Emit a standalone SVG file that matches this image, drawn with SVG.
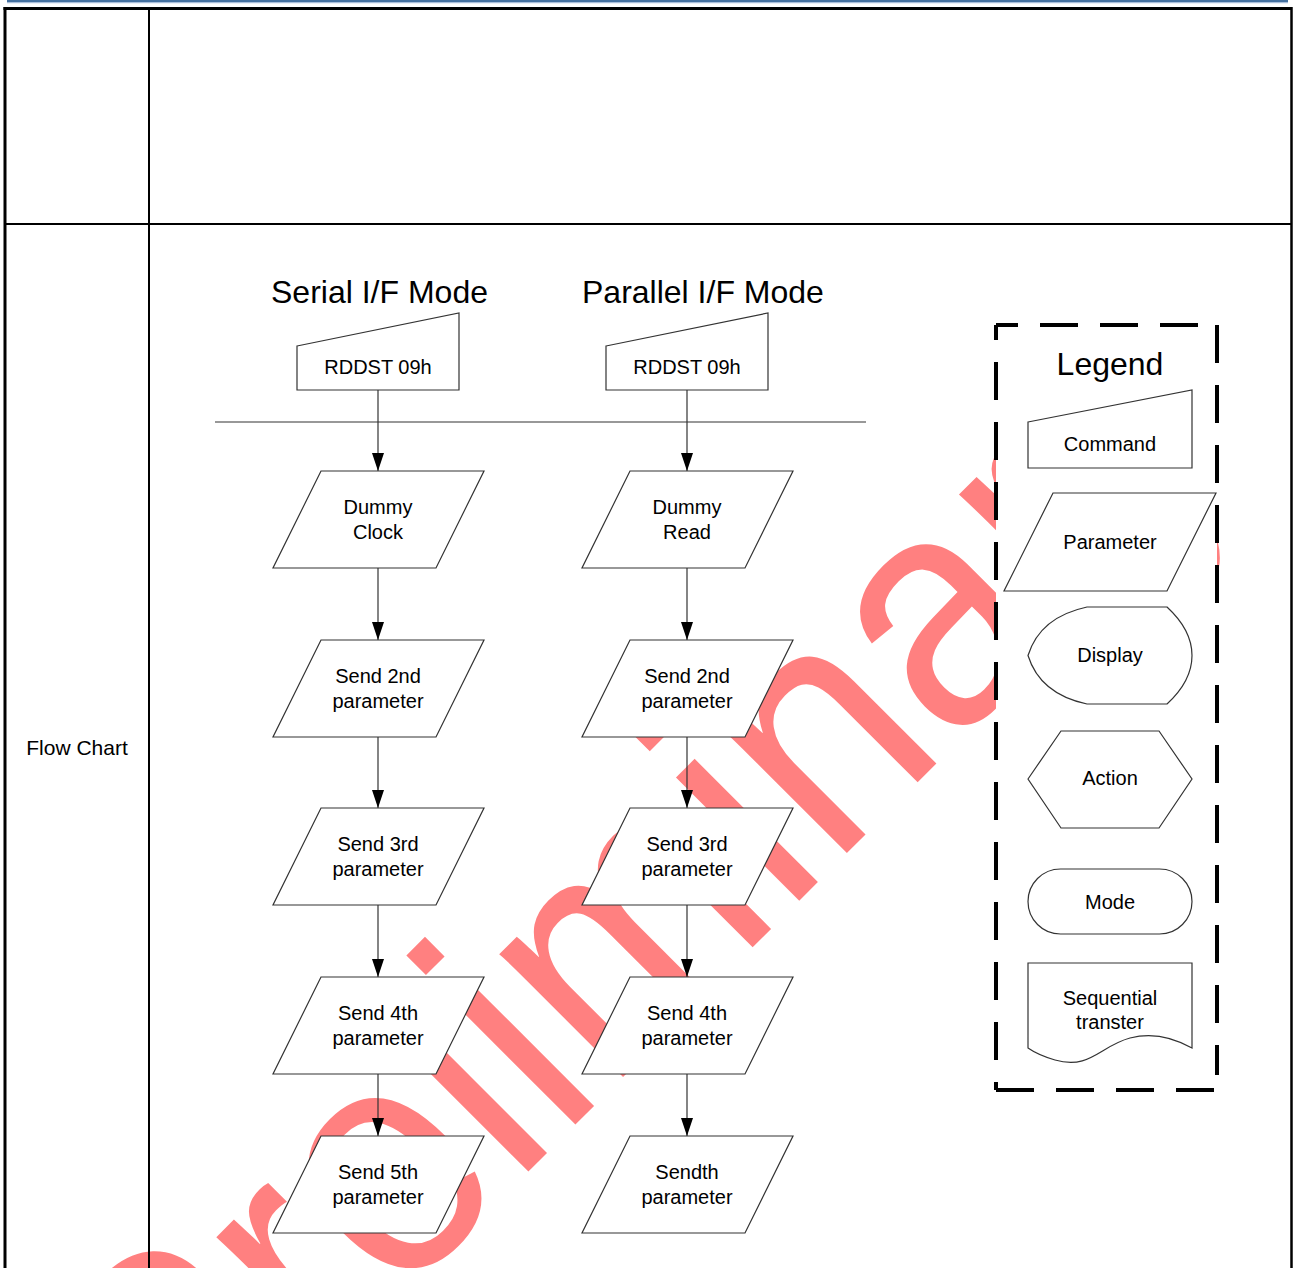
<svg xmlns="http://www.w3.org/2000/svg" width="1293" height="1268" viewBox="0 0 1293 1268">
<style>
text{font-family:"Liberation Sans",Arial,sans-serif;fill:#000}
.t{font-size:20px;text-anchor:middle}
.title{font-size:32px}
.wm{fill:#FF8080;font-size:300px}
.node{fill:#fff;stroke:#333;stroke-width:1.2}
.conn{stroke:#333;stroke-width:1.2;fill:none}
.tbl{stroke:#000;fill:none}
.dash{stroke:#000;stroke-width:4;stroke-dasharray:38 22;fill:none}
</style>
<defs>
<marker id="arr" viewBox="0 0 18 12" refX="18" refY="6" markerWidth="18" markerHeight="12" markerUnits="userSpaceOnUse" orient="auto">
<path d="M0,0 L18,6 L0,12 z" fill="#000"/>
</marker>
</defs>
<rect width="1293" height="1268" fill="#fff"/>
<!-- watermark -->
<text id="watermark" class="wm" x="0" y="0" transform="translate(184,1516) rotate(-45) scale(1,1.1)">Preliminary</text>
<!-- header band -->
<rect x="7" y="0" width="1281" height="2.2" fill="#44709F"/>
<rect x="7" y="2.2" width="1281" height="1" fill="#9DB5D5"/>
<!-- table -->
<g id="table">
<line class="tbl" x1="5" y1="7" x2="5" y2="1268" stroke-width="3"/>
<line class="tbl" x1="3.5" y1="8.5" x2="1292" y2="8.5" stroke-width="3"/>
<line class="tbl" x1="1291.5" y1="7" x2="1291.5" y2="1268" stroke-width="2.5"/>
<line class="tbl" x1="149" y1="8" x2="149" y2="1268" stroke-width="2"/>
<line class="tbl" x1="5" y1="224" x2="1292" y2="224" stroke-width="2"/>
<text x="77" y="755" font-size="21" text-anchor="middle">Flow Chart</text>
</g>
<!-- titles -->
<text class="title" x="271" y="303">Serial I/F Mode</text>
<text class="title" x="582" y="303">Parallel I/F Mode</text>
<!-- connectors -->
<g id="connectors">
<line class="conn" x1="215" y1="422" x2="866" y2="422"/>
<line class="conn" x1="378" y1="390" x2="378" y2="471" marker-end="url(#arr)"/>
<line class="conn" x1="378" y1="568" x2="378" y2="640" marker-end="url(#arr)"/>
<line class="conn" x1="378" y1="737" x2="378" y2="808" marker-end="url(#arr)"/>
<line class="conn" x1="378" y1="905" x2="378" y2="977" marker-end="url(#arr)"/>
<line class="conn" x1="378" y1="1074" x2="378" y2="1136" marker-end="url(#arr)"/>
<line class="conn" x1="687" y1="390" x2="687" y2="471" marker-end="url(#arr)"/>
<line class="conn" x1="687" y1="568" x2="687" y2="640" marker-end="url(#arr)"/>
<line class="conn" x1="687" y1="737" x2="687" y2="808" marker-end="url(#arr)"/>
<line class="conn" x1="687" y1="905" x2="687" y2="977" marker-end="url(#arr)"/>
<line class="conn" x1="687" y1="1074" x2="687" y2="1136" marker-end="url(#arr)"/>
</g>
<!-- serial column -->
<g id="s-cmd"><path class="node" d="M297,346 L459,313 L459,390 L297,390 Z"/><text class="t" x="378" y="374">RDDST 09h</text></g>
<g id="s-dummy"><path class="node" d="M321,471 L484,471 L436,568 L273,568 Z"/><text class="t" x="378" y="513.5">Dummy</text><text class="t" x="378" y="538.5">Clock</text></g>
<g id="s-p2"><path class="node" d="M321,640 L484,640 L436,737 L273,737 Z"/><text class="t" x="378" y="682.5">Send 2nd</text><text class="t" x="378" y="707.5">parameter</text></g>
<g id="s-p3"><path class="node" d="M321,808 L484,808 L436,905 L273,905 Z"/><text class="t" x="378" y="850.5">Send 3rd</text><text class="t" x="378" y="875.5">parameter</text></g>
<g id="s-p4"><path class="node" d="M321,977 L484,977 L436,1074 L273,1074 Z"/><text class="t" x="378" y="1019.5">Send 4th</text><text class="t" x="378" y="1044.5">parameter</text></g>
<g id="s-p5"><path class="node" d="M321,1136 L484,1136 L436,1233 L273,1233 Z"/><text class="t" x="378" y="1178.5">Send 5th</text><text class="t" x="378" y="1203.5">parameter</text></g>
<!-- parallel column -->
<g id="p-cmd"><path class="node" d="M606,346 L768,313 L768,390 L606,390 Z"/><text class="t" x="687" y="374">RDDST 09h</text></g>
<g id="p-dummy"><path class="node" d="M630,471 L793,471 L745,568 L582,568 Z"/><text class="t" x="687" y="513.5">Dummy</text><text class="t" x="687" y="538.5">Read</text></g>
<g id="p-p2"><path class="node" d="M630,640 L793,640 L745,737 L582,737 Z"/><text class="t" x="687" y="682.5">Send 2nd</text><text class="t" x="687" y="707.5">parameter</text></g>
<g id="p-p3"><path class="node" d="M630,808 L793,808 L745,905 L582,905 Z"/><text class="t" x="687" y="850.5">Send 3rd</text><text class="t" x="687" y="875.5">parameter</text></g>
<g id="p-p4"><path class="node" d="M630,977 L793,977 L745,1074 L582,1074 Z"/><text class="t" x="687" y="1019.5">Send 4th</text><text class="t" x="687" y="1044.5">parameter</text></g>
<g id="p-p5"><path class="node" d="M630,1136 L793,1136 L745,1233 L582,1233 Z"/><text class="t" x="687" y="1178.5">Sendth</text><text class="t" x="687" y="1203.5">parameter</text></g>
<!-- legend -->
<g id="legend">
<rect x="996" y="325" width="221" height="765" fill="#fff"/>
<line class="dash" x1="996" y1="325" x2="1217" y2="325" stroke-dashoffset="16"/>
<line class="dash" x1="996" y1="325" x2="996" y2="1090" stroke-dashoffset="23"/>
<line class="dash" x1="1217" y1="325" x2="1217" y2="1075"/>
<line class="dash" x1="996" y1="1090" x2="1217" y2="1090"/>
<text x="1110" y="375" font-size="32" text-anchor="middle">Legend</text>
<g id="lg-command"><path class="node" d="M1028,422 L1192,390 L1192,468 L1028,468 Z"/><text class="t" x="1110" y="451">Command</text></g>
<g id="lg-parameter"><path class="node" d="M1053,493 L1216,493 L1167,591 L1004,591 Z"/><text class="t" x="1110" y="549">Parameter</text></g>
<g id="lg-display"><path class="node" d="M1087,607 L1167,607 Q1192,630 1192,655.5 Q1192,681 1167,704 L1087,704 Q1040,694 1028,655.5 Q1040,617 1087,607 Z"/><text class="t" x="1110" y="662">Display</text></g>
<g id="lg-action"><path class="node" d="M1028,779 L1061,731 L1159,731 L1192,779 L1159,828 L1061,828 Z"/><text class="t" x="1110" y="785">Action</text></g>
<g id="lg-mode"><rect class="node" x="1028" y="869" width="164" height="65" rx="32.5" ry="32.5"/><text class="t" x="1110" y="909">Mode</text></g>
<g id="lg-seq"><path class="node" d="M1028,963 L1192,963 L1192,1048 Q1160,1030 1130,1038 C1100,1046 1090,1070 1055,1060 Q1038,1055 1028,1048 Z"/><text class="t" x="1110" y="1005">Sequential</text><text class="t" x="1110" y="1029">transter</text></g>
</g>
</svg>
